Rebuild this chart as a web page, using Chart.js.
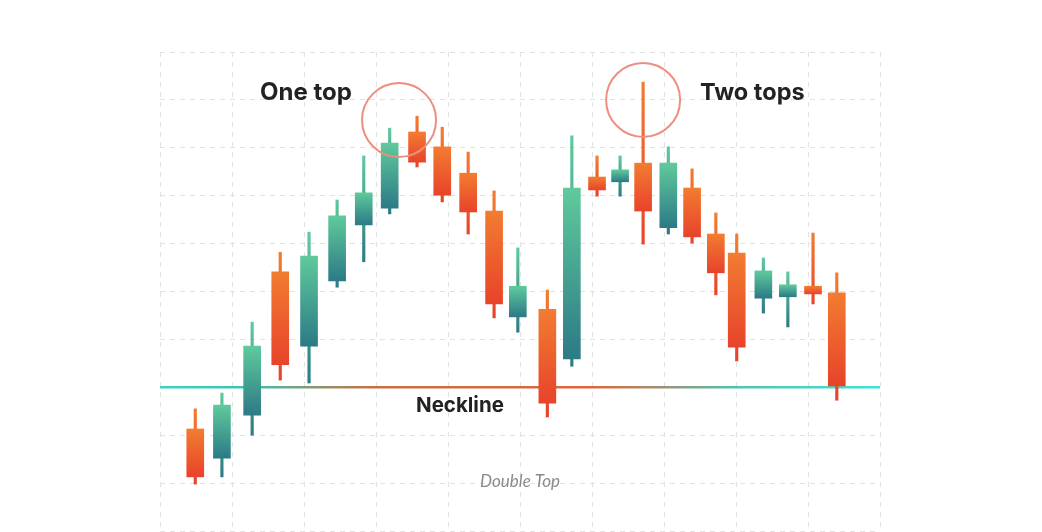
<!DOCTYPE html>
<html>
<head>
<meta charset="utf-8">
<script src="https://cdn.jsdelivr.net/npm/chart.js@4.4.1/dist/chart.umd.min.js"></script>
<style>
html,body{margin:0;padding:0;background:#fff;}
#wrap{width:1042px;height:532px;position:relative;}
</style>
</head>
<body>
<div id="wrap"><canvas id="c" width="1042" height="532"></canvas></div>
<script>
// ---- data ----
// time position of each candle, in grid units
const times  = [0.49,0.86,1.28,1.67,2.07,2.46,2.83,3.19,3.57,3.92,4.28,4.64,4.97,5.38,5.72,6.07,6.39,6.71,7.06,7.39,7.72,8.01,8.38,8.72,9.07,9.40];
const opens  = [21.3,15.2,24.2,54.1,38.6,52.2,63.9,67.4,83.3,80.2,74.7,66.8,44.7,46.3,35.9,73.9,72.9,76.8,63.3,71.6,62.0,58.0,48.6,48.9,51.1,49.7];
const closes = [11.3,26.3,38.6,34.7,57.4,65.8,70.6,81.0,77.0,70.1,66.6,47.4,51.1,26.7,71.6,71.2,75.4,66.8,76.8,61.4,53.9,38.4,54.3,51.4,49.5,30.3];
const highs  = [25.5,28.8,43.6,58.2,62.4,69.1,78.3,84.1,86.6,84.3,79.1,71.0,59.1,50.3,82.5,78.3,78.3,93.7,80.2,75.6,66.4,62.0,57.0,54.1,62.2,53.9];
const lows   = [ 9.8,11.3,20.0,31.5,30.9,50.9,56.2,66.2,76.0,68.7,62.0,44.5,41.5,23.8,34.4,69.9,69.9,59.9,62.0,60.1,49.3,35.5,45.5,42.6,47.4,27.3];
const neckline = 30;
const labels = {oneTop:'One top', twoTops:'Two tops', neck:'Neckline', title:'Double Top'};

const bodies = opens.map((o,i)=>({x:times[i], y:[o, closes[i]]}));
const wicks  = highs.map((h,i)=>({x:times[i], y:[lows[i], h]}));

const GREEN = ['#5fca9c', '#2c7a86'];
const ORANGE = ['#f27c31', '#e8432a'];

function candleGradient(ctx, lo, hi, idx){
  const chart = ctx.chart;
  const area = chart.chartArea;
  if(!area) return GREEN[0];
  const ys = chart.scales.y;
  const top = ys.getPixelForValue(hi), bot = ys.getPixelForValue(lo);
  const up = closes[idx] >= opens[idx];
  const c = up ? GREEN : ORANGE;
  const g = chart.ctx.createLinearGradient(0, top, 0, Math.max(bot, top+1));
  g.addColorStop(0, c[0]); g.addColorStop(1, c[1]);
  return g;
}

const overlay = {
  id:'overlay',
  beforeDatasetsDraw(chart){
    const {ctx, chartArea:a, scales} = chart;
    const y = scales.y.getPixelForValue(neckline);
    const g = ctx.createLinearGradient(a.left,0,a.right,0);
    g.addColorStop(0,'#3fd2c5');
    g.addColorStop(0.12,'#3cc3b5');
    g.addColorStop(0.3,'#c8703f');
    g.addColorStop(0.6,'#e0663a');
    g.addColorStop(0.8,'#52c2b3');
    g.addColorStop(1,'#40e2d6');
    ctx.save();
    ctx.strokeStyle = g; ctx.lineWidth = 2.5;
    ctx.beginPath(); ctx.moveTo(a.left, y); ctx.lineTo(a.right, y); ctx.stroke();
    ctx.restore();
  },
  afterDatasetsDraw(chart){
    const {ctx, scales} = chart;
    const xs = scales.x, ys = scales.y;
    ctx.save();
    ctx.strokeStyle = '#ec8f82'; ctx.lineWidth = 2;
    [[3.32, 85.8],[6.71, 90.0]].forEach(([cx,cy])=>{
      ctx.beginPath();
      ctx.arc(xs.getPixelForValue(cx), ys.getPixelForValue(cy), 37, 0, Math.PI*2);
      ctx.stroke();
    });
    ctx.fillStyle = '#222';
    ctx.textBaseline = 'middle';
    ctx.textAlign = 'left';
    ctx.font = '700 24px Inter, "Open Sans", sans-serif';
    ctx.fillText(labels.oneTop, 260, 93);
    ctx.font = '700 23.5px Inter, "Open Sans", sans-serif';
    ctx.fillText(labels.twoTops, 700, 93);
    ctx.font = '700 20.5px Inter, "Open Sans", sans-serif';
    ctx.fillText(labels.neck, 416, 406);
    ctx.fillStyle = '#8a8a8a';
    ctx.textAlign = 'center';
    ctx.font = 'italic 400 17px Lato, "Open Sans", sans-serif';
    ctx.fillText(labels.title, 520, 482);
    ctx.restore();
  }
};

new Chart(document.getElementById('c'), {
  type:'bar',
  data:{
    datasets:[
      {label:'wick', data:wicks, barThickness:2.5, grouped:false, order:2,
       backgroundColor:(ctx)=>{ if(ctx.type!=='data') return '#888'; return candleGradient(ctx, lows[ctx.dataIndex], highs[ctx.dataIndex], ctx.dataIndex);} },
      {label:'body', data:bodies, barThickness:17, grouped:false, order:1,
       backgroundColor:(ctx)=>{ if(ctx.type!=='data') return '#888'; const i=ctx.dataIndex; return candleGradient(ctx, Math.min(opens[i],closes[i]), Math.max(opens[i],closes[i]), i);} }
    ]
  },
  options:{
    responsive:false,
    animation:false,
    events:[],
    layout:{padding:{left:160, right:162, top:52, bottom:1}},
    plugins:{legend:{display:false}, tooltip:{enabled:false}},
    scales:{
      x:{type:'linear', position:'bottom', min:0, max:10, display:true, offset:false,
          ticks:{display:false, stepSize:1}, border:{display:false, dash:[5,5]},
          grid:{color:'#e2e2e2', lineWidth:1, drawTicks:false, offset:false}},
      y:{type:'linear', min:0, max:100, display:true,
         ticks:{display:false, stepSize:10}, border:{display:false, dash:[5,5]},
         grid:{color:'#e2e2e2', lineWidth:1, drawTicks:false}}
    }
  },
  plugins:[overlay]
});
</script>
</body>
</html>
